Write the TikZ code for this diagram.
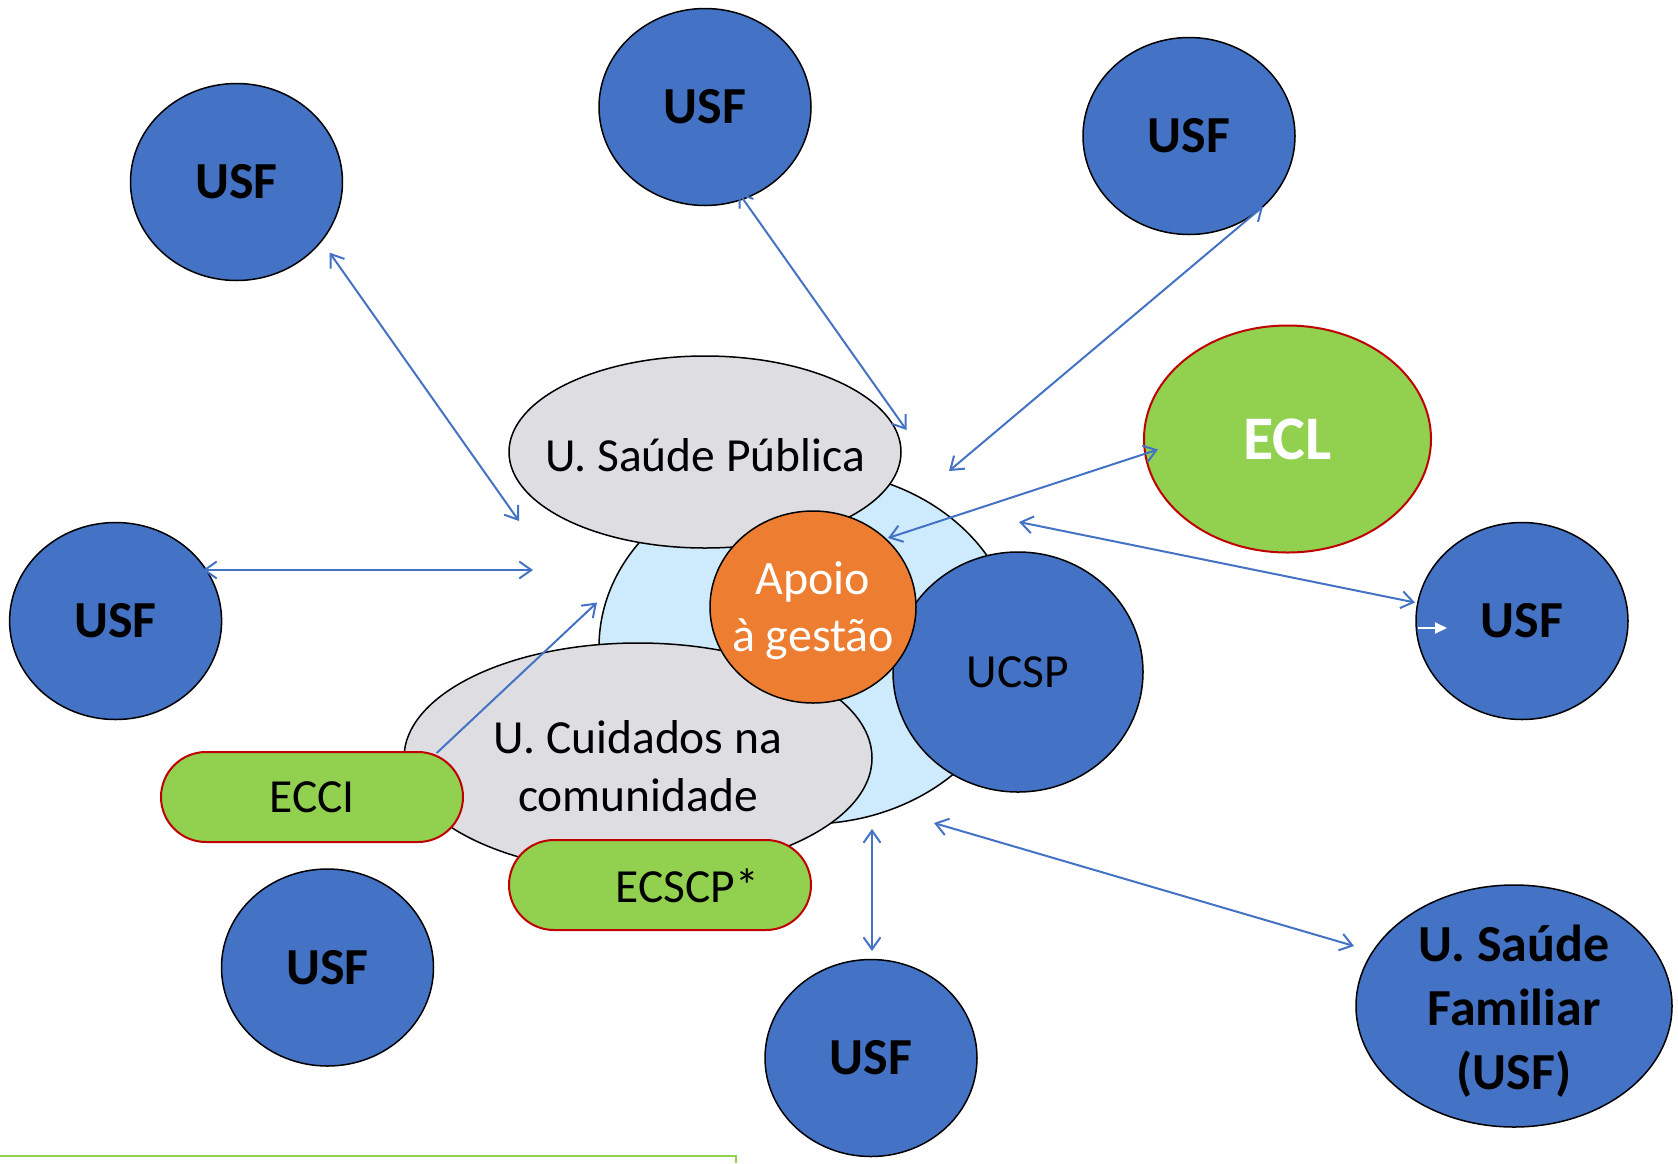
\documentclass[tikz,border=0pt]{standalone}
\usepackage{fontspec}
\setmainfont{Carlito}
\usetikzlibrary{shapes.geometric,shapes.misc,arrows.meta}
\definecolor{ublue}{HTML}{4472C4}
\definecolor{uorange}{HTML}{ED7D31}
\definecolor{ugreen}{HTML}{92D050}
\definecolor{ugrey}{HTML}{DEDDE2}
\definecolor{ulight}{HTML}{CDEBFC}
\definecolor{ured}{HTML}{C00000}
\tikzset{
  oval/.style={ellipse, draw=black, line width=1.5pt, inner sep=0pt, align=center},
  usf/.style={oval, fill=ublue, minimum width=212pt, minimum height=197pt,
    font=\fontsize{52}{64}\selectfont\bfseries},
  regtext/.style={font=\fontsize{47.5}{58}\selectfont, align=center},
  greyoval/.style={oval, fill=ugrey},
  pill/.style={rounded rectangle, draw=ured, line width=2pt, fill=ugreen,
    minimum width=302pt, minimum height=90pt, inner sep=0pt,
    font=\fontsize{47.5}{58}\selectfont},
  link/.style={draw=ublue, line width=2pt, <->,
    >={Straight Barb[length=12pt,width=17pt]}},
  onelink/.style={draw=ublue, line width=2pt, ->,
    >={Straight Barb[length=12pt,width=17pt]}},
}
\begin{document}
\begin{tikzpicture}[x=1pt,y=-1pt]
\useasboundingbox (0,0) rectangle (1678,1163);

% central cluster
\node[oval, fill=ulight, minimum width=418pt, minimum height=354pt] (central) at (808,647) {};
\node[greyoval, minimum width=392pt, minimum height=192pt] (usp) at (705,452) {};
\node[regtext] (usptxt) at (705,455) {U. Saúde Pública};
\node[greyoval, minimum width=468pt, minimum height=230pt] (ucc) at (638,758) {};
\node[regtext] (ucctxt) at (638,766) {U. Cuidados na\\comunidade};
\node[oval, fill=ublue, minimum width=250pt, minimum height=240pt,
  font=\fontsize{47.5}{58}\selectfont] (ucsp) at (1018,672) {UCSP};
\node[oval, fill=uorange, minimum width=206pt, minimum height=192pt] (apoio) at (813,607) {};
\node[text=white, font=\fontsize{48}{57}\selectfont, align=center] (apoiotxt) at (813,611) {Apoio\\à gestão};

% ECCI arrow (under ECCI)
\coordinate (a5s) at (436.7,753);
\coordinate (a5e) at (597,602.5);
\draw[onelink] (a5s) -- (a5e);

\node[pill] (ecci) at (312,797) {ECCI};
\node[pill] (ecscp) at (660,885) {};
\node[regtext] (ecscptxt) at (687,886) {ECSCP*};

% outer units
\node[usf] (usf1) at (236.5,182) {USF};
\node[usf] (usf2) at (705,107) {USF};
\node[usf] (usf3) at (1189,136) {USF};
\node[usf] (usf4) at (115.6,621) {USF};
\node[usf] (usf5) at (1522,621) {USF};
\node[usf] (usf6) at (327.5,967.5) {USF};
\node[usf] (usf7) at (871,1058) {USF};
\node[usf, minimum width=316pt, minimum height=242pt] (usfam) at (1514,1006) {};
\node[font=\fontsize{52}{64}\selectfont\bfseries, align=center] (usfamtxt) at (1514,1011) {U. Saúde\\Familiar\\(USF)};
\node[oval, draw=ured, line width=2pt, fill=ugreen, minimum width=287pt, minimum height=227pt,
  text=white, font=\fontsize{62}{70}\selectfont\bfseries] (ecl) at (1287.5,439) {ECL};

% arrows
\coordinate (a1s) at (329.6,252.6); \coordinate (a1e) at (519,521);
\coordinate (a2s) at (738.5,192.6); \coordinate (a2e) at (906.5,430);
\coordinate (a3s) at (1263,206.5);  \coordinate (a3e) at (949,471);
\coordinate (a4s) at (203,570);     \coordinate (a4e) at (533,570);
\coordinate (a6s) at (1158,449.5);  \coordinate (a6e) at (888,538);
\coordinate (a7s) at (1019,522);    \coordinate (a7e) at (1415,602.5);
\coordinate (a9s) at (872,829);     \coordinate (a9e) at (872,951);
\coordinate (a10s) at (934,823);    \coordinate (a10e) at (1354,946);
\coordinate (w1) at (1418,628);     \coordinate (w2) at (1447,628);

\draw[link] (a1s) -- (a1e);
\draw[link] (a2s) -- (a2e);
\draw[link] (a3s) -- (a3e);
\draw[link] (a4s) -- (a4e);
\draw[link] (a6s) -- (a6e);
\draw[link] (a7s) -- (a7e);
\draw[link] (a9s) -- (a9e);
\draw[link] (a10s) -- (a10e);
\draw[white, line width=2pt, -{Triangle[length=12pt,width=11pt]}] (w1) -- (w2);

% bottom green frame line
\draw[ugreen, line width=2pt] (0,1156) -- (736,1156) -- (736,1163);
\end{tikzpicture}
\end{document}
